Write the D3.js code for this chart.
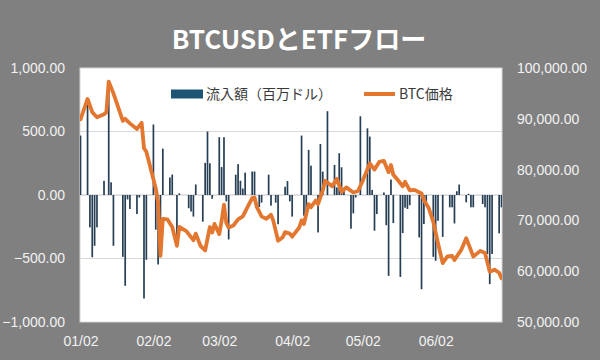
<!DOCTYPE html>
<html>
<head>
<meta charset="utf-8">
<script src="https://cdn.jsdelivr.net/npm/d3@7"></script>
<style>
  body { margin: 0; background: #808080; }
  svg { display: block; }
</style>
</head>
<body>
<div id="chart"></div>
<script>
var year = "2026";

// ETF flows (million USD), trading days
var flowDates = [
  "01-02","01-05","01-06","01-07","01-08","01-09","01-12","01-13","01-14","01-15","01-16",
  "01-20","01-21","01-22","01-23","01-26","01-27","01-28","01-29","01-30",
  "02-02","02-03","02-04","02-05","02-06","02-09","02-10","02-11","02-12","02-13",
  "02-17","02-18","02-19","02-20","02-23","02-24","02-25","02-26","02-27",
  "03-02","03-03","03-04","03-05","03-06","03-09","03-10","03-11","03-12","03-13",
  "03-16","03-17","03-18","03-19","03-20","03-23","03-24","03-25","03-26","03-27",
  "03-30","03-31","04-01","04-02","04-06","04-07","04-08","04-09","04-10",
  "04-13","04-14","04-15","04-16","04-17","04-20","04-21","04-22","04-23","04-24",
  "04-27","04-28","04-29","04-30","05-01","05-04","05-05","05-06","05-07","05-08",
  "05-11","05-12","05-13","05-14","05-15","05-18","05-19","05-20","05-21","05-22",
  "05-26","05-27","05-28","05-29","06-01","06-02","06-03","06-04","06-05",
  "06-08","06-09","06-10","06-11","06-12","06-15","06-16","06-17","06-18",
  "06-22","06-23","06-24","06-25","06-26","06-29","06-30"
];
var flowValues = [
  468, 720, -255, -490, -400, -255, 112, 0, 830, 100, -400,
  -487, -715, -35, -110, -150, -20, 0, -815, -510,
  555, -273, -547, -430, 365, 138, 161, 0, -409, 13,
  -104, -130, -170, 83, -210, 253, 500, 250, -30,
  455, 220, 455, -50, -350, 160, 243, 112, 51, 176,
  185, 185, 0, -95, -60, 160, -84, 0, -60, -230,
  65, 110, -50, -170, 468, -163, -124, 355, 231,
  -295, 402, 184, 0, 660, 237, 60, 329, 218, 50,
  -265, -145, -20, 0, 620, 525, 460, 40, -281, -150,
  20, -238, -637, 122, -221, -645, -300, -100, -110, -80,
  -334, -742, -229, -50, -487, -518, -203, 0, -330,
  -97, -97, -224, 30, 82, -58, 10, -97, -97,
  -71, -97, -465, -702, -465, -302, -97
];

// BTC price (USD)
var priceDates = [
  "01-02","01-05","01-07","01-09","01-12","01-13","01-14","01-16","01-18","01-20","01-21","01-23",
  "01-26","01-28","01-29","01-30","02-03","02-04","02-05","02-06","02-08","02-10","02-12","02-13",
  "02-16","02-19","02-20","02-22","02-24","02-26","02-27","02-28","03-02","03-03","03-04","03-05",
  "03-06","03-08","03-10","03-12","03-13","03-14","03-16","03-17","03-18","03-20","03-22","03-24",
  "03-25","03-27","03-29","03-30","04-01","04-02","04-05","04-06","04-07","04-09","04-10","04-12",
  "04-13","04-15","04-16","04-19","04-21","04-23","04-25","04-28","04-30","05-02","05-05","05-07",
  "05-09","05-11","05-13","05-14","05-15","05-17","05-19","05-20","05-22","05-24","05-27","05-28",
  "05-30","06-01","06-03","06-05","06-07","06-09","06-10","06-13","06-15","06-18","06-21","06-23",
  "06-25","06-27","06-29","06-30"
];
var priceValues = [
  89900, 93900, 91300, 90300, 90900, 91300, 97300, 95000, 92300, 89600, 90000, 89100,
  88000, 89200, 84200, 83500, 76300, 73500, 63000, 70300, 70200, 68700, 65000, 68700,
  67900, 66100, 67400, 65000, 64100, 68700, 67600, 69300, 67300, 69900, 73100, 69500,
  68600, 69000, 70200, 70800, 71700, 72600, 74400, 74500, 72600, 70800, 70300, 71100,
  69900, 66000, 66700, 67700, 67400, 66800, 68600, 70000, 69300, 73200, 72600, 73900,
  73200, 75900, 77800, 76700, 78200, 75600, 76500, 75500, 75800, 77800, 81200, 80000,
  81500, 81700, 79500, 80900, 79000, 77900, 76700, 77600, 75900, 76000, 75300, 74000,
  72500, 69700, 65500, 61600, 62900, 63000, 62200, 64300, 66500, 62900, 64000, 63600,
  59900, 60300, 59700, 58600
];

var xTickDates = ["01-02", "02-02", "03-02", "04-02", "05-02", "06-02"];
var flowTicks = [1000, 500, 0, -500, -1000];
var priceTicks = [100000, 90000, 80000, 70000, 60000, 50000];
var flowGrid = [500, 0, -500];

var W = 600, H = 360;
var pLeft = 80, pRight = 502, pTop = 68, pBottom = 322;
var parse = d3.timeParse("%Y-%m-%d");
var toDate = function(s){ return parse(year + "-" + s); };

var svg = d3.select("#chart").append("svg")
  .attr("width", W).attr("height", H)
  .style("font-family", "'Liberation Sans', Arial, sans-serif");

svg.append("rect").attr("width", W).attr("height", H).attr("fill", "#808080");

svg.append("text")
  .attr("x", 299).attr("y", 49)
  .attr("text-anchor", "middle")
  .attr("fill", "#fff")
  .style("font-family", "'Noto Sans CJK JP', sans-serif")
  .style("font-size", "26px")
  .style("font-weight", "bold")
  .text("BTCUSDとETFフロー");

var x = d3.scaleTime()
  .domain([toDate("01-02"), toDate("06-30")])
  .range([pLeft + 0.5, pRight - 0.5]);
var yL = d3.scaleLinear().domain([-1000, 1000]).range([pBottom, pTop]);
var yR = d3.scaleLinear().domain([50000, 100000]).range([pBottom, pTop]);

// plot area
svg.append("rect")
  .attr("x", pLeft).attr("y", pTop)
  .attr("width", pRight - pLeft).attr("height", pBottom - pTop)
  .attr("fill", "#fff")
  .attr("stroke", "#d6d6d6");

svg.append("clipPath").attr("id", "plotclip")
  .append("rect").attr("x", pLeft).attr("y", pTop)
  .attr("width", pRight - pLeft).attr("height", pBottom - pTop);

svg.selectAll(".grid")
  .data(flowGrid)
  .enter().append("line")
  .attr("class", "grid")
  .attr("x1", pLeft).attr("x2", pRight)
  .attr("y1", function(d){ return yL(d); })
  .attr("y2", function(d){ return yL(d); })
  .attr("stroke", function(d){ return d === 0 ? "#c4c4c4" : "#d9d9d9"; })
  .attr("stroke-width", 1);

var plot = svg.append("g").attr("clip-path", "url(#plotclip)");

// flow bars
var flows = flowDates.map(function(d, i){ return {date: toDate(d), v: flowValues[i]}; });
var bw = 1.7;
plot.selectAll(".bar")
  .data(flows)
  .enter().append("rect")
  .attr("class", "bar")
  .attr("x", function(d){ return x(d.date) - bw / 2; })
  .attr("y", function(d){ return Math.min(yL(0), yL(d.v)); })
  .attr("width", bw)
  .attr("height", function(d){ return Math.abs(yL(d.v) - yL(0)); })
  .attr("fill", "#273f55");

// price line
var prices = priceDates.map(function(d, i){ return {date: toDate(d), v: priceValues[i]}; });
var line = d3.line()
  .x(function(d){ return x(d.date); })
  .y(function(d){ return yR(d.v); });

plot.append("path")
  .datum(prices)
  .attr("d", line)
  .attr("fill", "none")
  .attr("stroke", "#e3772f")
  .attr("stroke-width", 3.8)
  .attr("stroke-linejoin", "round")
  .attr("stroke-linecap", "round");

// axes
var fmt = d3.format(",.2f");

var axL = svg.append("g")
  .attr("transform", "translate(" + pLeft + ",0)")
  .call(d3.axisLeft(yL).tickValues(flowTicks).tickFormat(fmt).tickSize(0).tickPadding(15));

var axR = svg.append("g")
  .attr("transform", "translate(" + pRight + ",0)")
  .call(d3.axisRight(yR).tickValues(priceTicks).tickFormat(fmt).tickSize(0).tickPadding(15));

var axB = svg.append("g")
  .attr("transform", "translate(0," + pBottom + ")")
  .call(d3.axisBottom(x).tickValues(xTickDates.map(toDate)).tickFormat(d3.timeFormat("%m/%d")).tickSize(0).tickPadding(14));

[axL, axR, axB].forEach(function(a){
  a.select(".domain").remove();
  a.selectAll("text")
    .attr("fill", "#f2f2f2")
    .style("font-family", "'Liberation Sans', Arial, sans-serif")
    .style("font-size", "14px");
});

// legend
var lg = svg.append("g").style("font-family", "'Noto Sans CJK JP', sans-serif").style("font-size", "14px");
lg.append("rect")
  .attr("x", 171).attr("y", 89.5).attr("width", 32).attr("height", 9)
  .attr("fill", "#1d5675");
lg.append("text")
  .attr("x", 206).attr("y", 98.5)
  .attr("fill", "#3a3a3a")
  .text("流入額（百万ドル）");
lg.append("line")
  .attr("x1", 364).attr("x2", 395)
  .attr("y1", 94).attr("y2", 94)
  .attr("stroke", "#e3772f")
  .attr("stroke-width", 4);
lg.append("text")
  .attr("x", 399).attr("y", 98.5)
  .attr("fill", "#3a3a3a")
  .text("BTC価格");
</script>
</body>
</html>
